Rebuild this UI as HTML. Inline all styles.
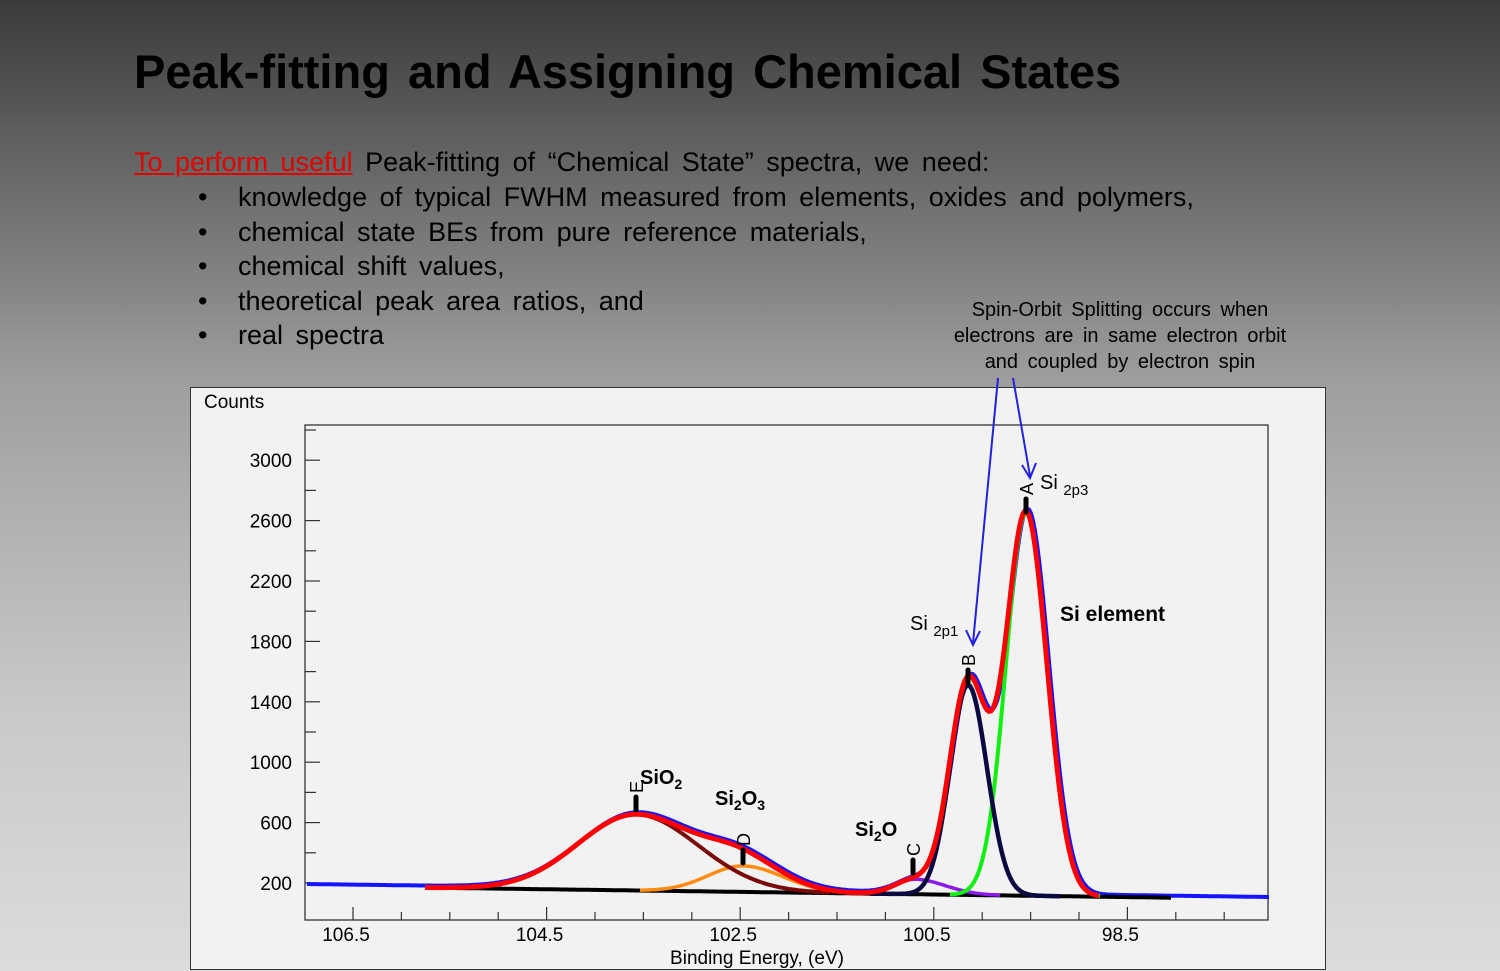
<!DOCTYPE html>
<html><head><meta charset="utf-8">
<style>
html,body{margin:0;padding:0}
body{width:1500px;height:971px;position:relative;overflow:hidden;font-family:"Liberation Sans",sans-serif;
background:linear-gradient(to bottom,#3a3a3a 0px,#6a6a6a 180px,#a0a0a0 390px,#c8c8c8 700px,#dcdcdc 971px);}
.t{position:absolute;white-space:nowrap;color:#000}
.b{position:absolute;left:198px;font-size:27px;}
.l{position:absolute;left:238px;font-size:27px;word-spacing:5px;white-space:nowrap}
</style></head><body>
<div class="t" style="left:134px;top:44px;font-size:47px;font-weight:bold;word-spacing:5px;">Peak-fitting and Assigning Chemical States</div>
<div class="t" style="left:134px;top:147px;font-size:27px;word-spacing:5px"><span style="color:#e00000;text-decoration:underline">To perform useful</span> Peak-fitting of “Chemical State” spectra, we need:</div>
<div class="b" style="top:182px">•</div><div class="l" style="top:182px">knowledge of typical FWHM measured from elements, oxides and polymers,</div>
<div class="b" style="top:217px">•</div><div class="l" style="top:217px">chemical state BEs from pure reference materials,</div>
<div class="b" style="top:251px">•</div><div class="l" style="top:251px">chemical shift values,</div>
<div class="b" style="top:286px">•</div><div class="l" style="top:286px">theoretical peak area ratios, and</div>
<div class="b" style="top:320px">•</div><div class="l" style="top:320px">real spectra</div>
<div class="t" style="left:920px;top:297px;width:400px;text-align:center;font-size:20px;line-height:26px;word-spacing:4px">Spin-Orbit Splitting occurs when<br>electrons are in same electron orbit<br>and coupled by electron spin</div>
<div style="position:absolute;left:190px;top:387px;width:1134px;height:581px;background:#f2f2f2;border:1px solid #333;"></div>
<svg id="s" width="1500" height="971" style="position:absolute;left:0;top:0" font-family="Liberation Sans, DejaVu Sans, sans-serif"></svg>
<script>
var s=document.getElementById('s'),h='';
h+='<rect x="305" y="425" width="963" height="495" fill="none" stroke="#333" stroke-width="1.3"/>';
h+='<text x="204" y="408" font-size="19">Counts</text>';
function Y(v){return 883-(v-200)*60.4/400;}
for(var v=200;v<=3200;v+=200){var y=Y(v);if(y<426)continue;var maj=(v-200)%400==0;
h+='<line x1="305" x2="'+(maj?320:316)+'" y1="'+y+'" y2="'+y+'" stroke="#333" stroke-width="1.2"/>';
if(maj)h+='<text x="292" y="'+(y+7)+'" font-size="19" text-anchor="end">'+v+'</text>';}
h+='<line x1="305" x2="316" y1="'+Y(3200)+'" y2="'+Y(3200)+'" stroke="#333"/>';
for(var k=0;k<20;k++){var x=353+k*48.4;if(x>1266)break;var maj=k%4==0;
h+='<line x1="'+x+'" x2="'+x+'" y1="920" y2="'+(maj?907:912)+'" stroke="#333" stroke-width="1.2"/>';
if(maj)h+='<text x="'+(x-7)+'" y="941" font-size="19" text-anchor="middle">'+(106.5-k/2).toFixed(1)+'</text>';}
h+='<text x="757" y="964" font-size="19" text-anchor="middle">Binding Energy, (eV)</text>';
function base(x){return 886+(x-305)*13/963;}
function g(x,c,a,sl,sr){var s=x<c?sl:sr;return a*Math.exp(-(x-c)*(x-c)/(2*s*s));}
var P=[[1026,383,20,21],[968,210,18,19],[915,15,20,30],[743,26,35,40],[636,76,58,62]];
function path(f,x0,x1,dy){var d='';for(var x=x0;x<=x1;x+=2){d+=(d?'L':'M')+x+' '+(f(x)+(dy||0)).toFixed(1);}return d;}
function env(x){var t=0;P.forEach(function(p){t+=g(x,p[0],p[1],p[2],p[3]);});return base(x)-t;}
function comp(i){return function(x){var p=P[i];return base(x)-g(x,p[0],p[1],p[2],p[3]);};}
h+='<path d="'+path(env,305,1268,0)+'" transform="translate(2,-2)" fill="none" stroke="#1414ff" stroke-width="4"/>';
h+='<path d="'+path(base,425,1172)+'" fill="none" stroke="#000" stroke-width="4"/>';
h+='<path d="'+path(comp(3),640,860)+'" fill="none" stroke="#ff8c10" stroke-width="3.5"/>';
h+='<path d="'+path(comp(4),440,830)+'" fill="none" stroke="#7a0a0a" stroke-width="4"/>';
h+='<path d="'+path(comp(2),860,1000)+'" fill="none" stroke="#8a1ae8" stroke-width="3.5"/>';
h+='<path d="'+path(comp(0),950,1100)+'" fill="none" stroke="#10f010" stroke-width="4"/>';
h+='<path d="'+path(comp(1),870,1060)+'" fill="none" stroke="#0a0a40" stroke-width="4.5"/>';
h+='<path d="'+path(env,425,1100)+'" fill="none" stroke="#ff0000" stroke-width="5"/>';
[[1026,499,512,'A'],[968,670,683,'B'],[913,860,873,'C'],[743,850,863,'D'],[636,797,810,'E']].forEach(function(m){
h+='<line x1="'+m[0]+'" x2="'+m[0]+'" y1="'+m[1]+'" y2="'+m[2]+'" stroke="#000" stroke-width="5" stroke-linecap="round"/>';
h+='<text transform="translate('+(m[0]+7)+','+(m[1]-4)+') rotate(-90)" font-size="18">'+m[3]+'</text>';});
h+='<text x="1040" y="489" font-size="20">Si <tspan font-size="15" dy="6">2p3</tspan></text>';
h+='<text x="910" y="630" font-size="20">Si <tspan font-size="15" dy="6">2p1</tspan></text>';
h+='<text x="1060" y="621" font-size="21" font-weight="bold">Si element</text>';
h+='<text x="640" y="784" font-size="20" font-weight="bold">SiO<tspan font-size="14" dy="5">2</tspan></text>';
h+='<text x="715" y="805" font-size="20" font-weight="bold">Si<tspan font-size="14" dy="5">2</tspan><tspan dy="-5">O</tspan><tspan font-size="14" dy="5">3</tspan></text>';
h+='<text x="855" y="836" font-size="20" font-weight="bold">Si<tspan font-size="14" dy="5">2</tspan><tspan dy="-5">O</tspan></text>';
h+='<line x1="998" y1="378" x2="973" y2="643" stroke="#2222dd" stroke-width="2"/><path d="M966 630 L973 645 L980 631" fill="none" stroke="#2222dd" stroke-width="2"/>';
h+='<line x1="1013" y1="378" x2="1030" y2="476" stroke="#2222dd" stroke-width="2"/><path d="M1022 465 L1030 478 L1036 463" fill="none" stroke="#2222dd" stroke-width="2"/>';
s.innerHTML=h;
</script>
</body></html>
